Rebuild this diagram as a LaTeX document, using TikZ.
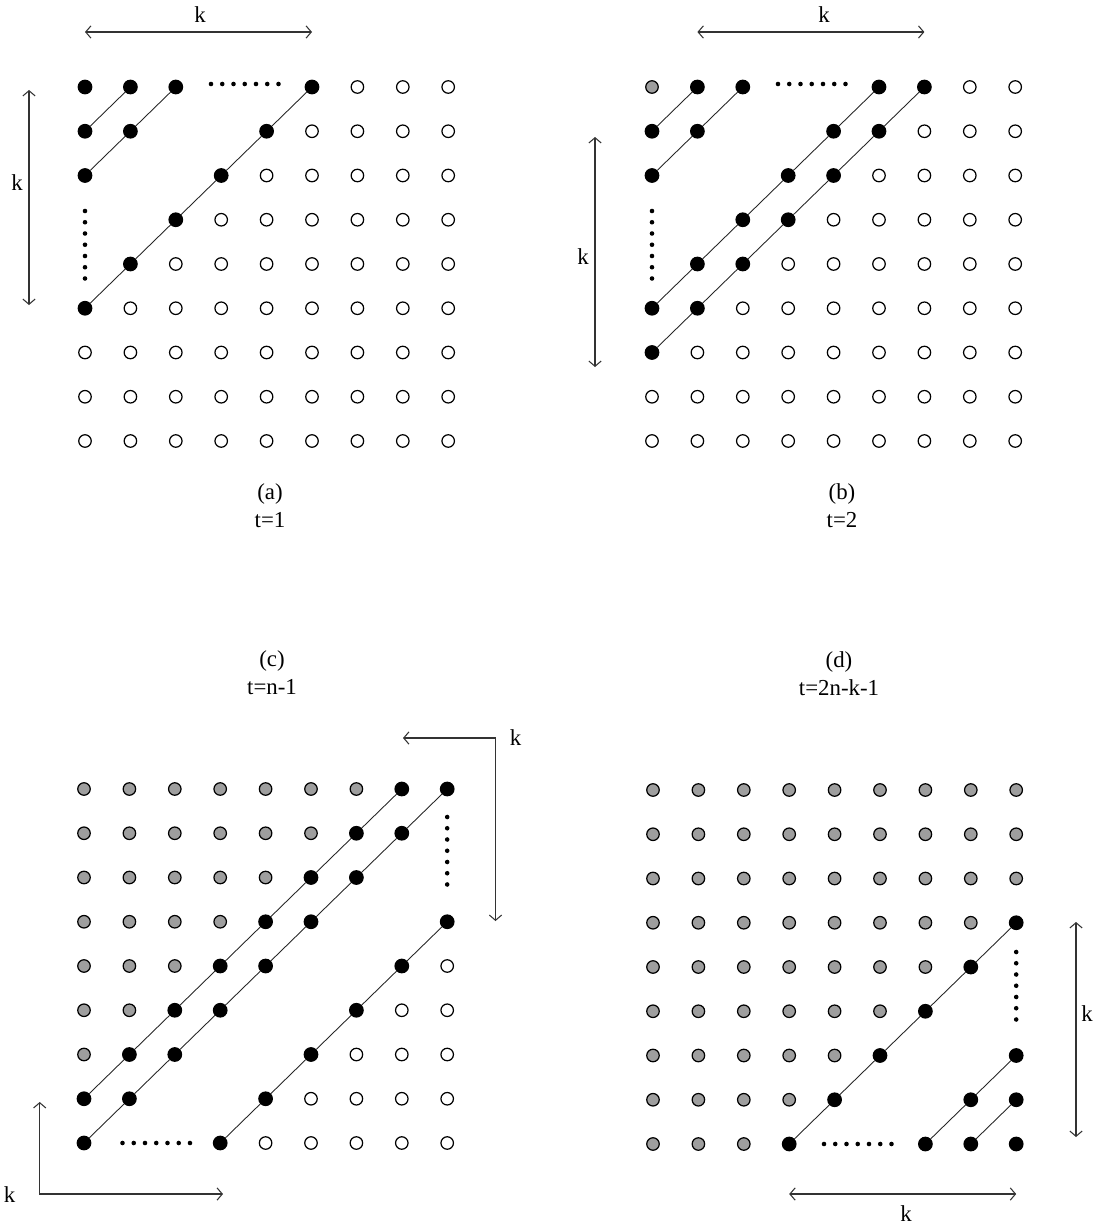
\documentclass[tikz,border=0pt]{standalone}
\usepackage{fontspec}
\setmainfont{Liberation Serif}
\usepackage{xcolor}
\usepackage{tikz}
\usetikzlibrary{arrows.meta}

\begin{document}
\begin{tikzpicture}[
    cellpt/.style={circle, minimum size=0.25cm, inner sep=0pt, line width=0.7pt},
    idle/.style={cellpt, draw=black, fill=white},
    done/.style={cellpt, draw=black, fill=black!38},
    busy/.style={cellpt, draw=black, fill=black, minimum size=0.27cm},
    link/.style={line width=0.5pt, draw=black!85},
    % ── dotted ellipses ──
    ellip/.style={line width=2.6pt, line cap=round, dash pattern=on 0pt off 6.4pt},
    % ── span arrows ──
    dimarrow/.style={{Straight Barb[length=3pt,width=7pt]}-{Straight Barb[length=3pt,width=7pt]},
                     line width=0.6pt, draw=black!80},
    klabel/.style={font=\fontsize{13}{15}\selectfont},
    captext/.style={align=center, font=\fontsize{13}{16}\selectfont},
]

\def\S{0.908}
\def\T{0.885}

\useasboundingbox (0,0) rectangle (21.96,-24.48);

% ══════════════════════════════════════
% (a) t=1
% ══════════════════════════════════════
\begin{scope}[shift={(1.70,-1.74)}]
    % Row 0
    \node[busy] (a00) at (0*\S, 0*\T) {};
    \node[busy] (a01) at (1*\S, 0*\T) {};
    \node[busy] (a02) at (2*\S, 0*\T) {};
    \node[busy] (a05) at (5*\S, 0*\T) {};
    \foreach \c in {6,...,8} \node[idle] (a0\c) at (\c*\S, 0*\T) {};

    % Row 1
    \node[busy] (a10) at (0*\S, -1*\T) {};
    \node[busy] (a11) at (1*\S, -1*\T) {};
    \node[busy] (a14) at (4*\S, -1*\T) {};
    \foreach \c in {5,...,8} \node[idle] (a1\c) at (\c*\S, -1*\T) {};

    % Row 2
    \node[busy] (a20) at (0*\S, -2*\T) {};
    \node[busy] (a23) at (3*\S, -2*\T) {};
    \foreach \c in {4,...,8} \node[idle] (a2\c) at (\c*\S, -2*\T) {};

    % Row 3
    \node[busy] (a32) at (2*\S, -3*\T) {};
    \foreach \c in {3,...,8} \node[idle] (a3\c) at (\c*\S, -3*\T) {};

    % Row 4
    \node[busy] (a41) at (1*\S, -4*\T) {};
    \foreach \c in {2,...,8} \node[idle] (a4\c) at (\c*\S, -4*\T) {};

    % Row 5
    \node[busy] (a50) at (0*\S, -5*\T) {};
    \foreach \c in {1,...,8} \node[idle] (a5\c) at (\c*\S, -5*\T) {};

    % Rows 6-8
    \foreach \r in {6,7,8} \foreach \c in {0,...,8} \node[idle] (a\r\c) at (\c*\S, -\r*\T) {};

    % Diagonals
    \draw[link] (a10) -- (a01);
    \draw[link] (a20) -- (a11) -- (a02);
    \draw[link] (a50) -- (a41) -- (a32) -- (a23) -- (a14) -- (a05);

    % Ellipses
    \coordinate (a-e1) at (2.52, 0.06);
    \coordinate (a-e2) at (3.88, 0.06);
    \draw[ellip] (a-e1) -- (a-e2);
    \coordinate (a-e3) at (0, -2.48);
    \coordinate (a-e4) at (0, -3.84);
    \draw[ellip] (a-e3) -- (a-e4);

    % Spans
    \coordinate (a-hl) at (0*\S, 1.10);
    \coordinate (a-hr) at (5*\S, 1.10);
    \draw[dimarrow] (a-hl) -- (a-hr);
    \node[klabel] (a-kh) at (2.30, 1.44) {k};
    \coordinate (a-vt) at (-1.12, -0.06);
    \coordinate (a-vb) at (-1.12, -4.36);
    \draw[dimarrow] (a-vt) -- (a-vb);
    \node[klabel] (a-kv) at (-1.36, -1.92) {k};

    \node[captext] (a-cap) at (3.70, -8.38) {(a)\\t=1};
\end{scope}

% ══════════════════════════════════════
% (b) t=2
% ══════════════════════════════════════
\begin{scope}[shift={(13.04,-1.74)}]
    % Row 0
    \node[done] (b00) at (0*\S, 0*\T) {};
    \node[busy] (b01) at (1*\S, 0*\T) {};
    \node[busy] (b02) at (2*\S, 0*\T) {};
    \node[busy] (b05) at (5*\S, 0*\T) {};
    \node[busy] (b06) at (6*\S, 0*\T) {};
    \foreach \c in {7,8} \node[idle] (b0\c) at (\c*\S, 0*\T) {};

    % Row 1
    \node[busy] (b10) at (0*\S, -1*\T) {};
    \node[busy] (b11) at (1*\S, -1*\T) {};
    \node[busy] (b14) at (4*\S, -1*\T) {};
    \node[busy] (b15) at (5*\S, -1*\T) {};
    \foreach \c in {6,...,8} \node[idle] (b1\c) at (\c*\S, -1*\T) {};

    % Row 2
    \node[busy] (b20) at (0*\S, -2*\T) {};
    \node[busy] (b23) at (3*\S, -2*\T) {};
    \node[busy] (b24) at (4*\S, -2*\T) {};
    \foreach \c in {5,...,8} \node[idle] (b2\c) at (\c*\S, -2*\T) {};

    % Row 3
    \node[busy] (b32) at (2*\S, -3*\T) {};
    \node[busy] (b33) at (3*\S, -3*\T) {};
    \foreach \c in {4,...,8} \node[idle] (b3\c) at (\c*\S, -3*\T) {};

    % Row 4
    \node[busy] (b41) at (1*\S, -4*\T) {};
    \node[busy] (b42) at (2*\S, -4*\T) {};
    \foreach \c in {3,...,8} \node[idle] (b4\c) at (\c*\S, -4*\T) {};

    % Row 5
    \node[busy] (b50) at (0*\S, -5*\T) {};
    \node[busy] (b51) at (1*\S, -5*\T) {};
    \foreach \c in {2,...,8} \node[idle] (b5\c) at (\c*\S, -5*\T) {};

    % Row 6
    \node[busy] (b60) at (0*\S, -6*\T) {};
    \foreach \c in {1,...,8} \node[idle] (b6\c) at (\c*\S, -6*\T) {};

    % Rows 7-8
    \foreach \r in {7,8} \foreach \c in {0,...,8} \node[idle] (b\r\c) at (\c*\S, -\r*\T) {};

    % Diagonals
    \draw[link] (b10) -- (b01);
    \draw[link] (b20) -- (b11) -- (b02);
    \draw[link] (b50) -- (b41) -- (b32) -- (b23) -- (b14) -- (b05);
    \draw[link] (b60) -- (b51) -- (b42) -- (b33) -- (b24) -- (b15) -- (b06);

    % Ellipses
    \coordinate (b-e1) at (2.52, 0.06);
    \coordinate (b-e2) at (3.88, 0.06);
    \draw[ellip] (b-e1) -- (b-e2);
    \coordinate (b-e3) at (0, -2.48);
    \coordinate (b-e4) at (0, -3.84);
    \draw[ellip] (b-e3) -- (b-e4);

    % Spans
    \coordinate (b-hl) at (1*\S, 1.10);
    \coordinate (b-hr) at (6*\S, 1.10);
    \draw[dimarrow] (b-hl) -- (b-hr);
    \node[klabel] (b-kh) at (3.44, 1.44) {k};
    \coordinate (b-vt) at (-1.14, -1.00);
    \coordinate (b-vb) at (-1.14, -5.60);
    \draw[dimarrow] (b-vt) -- (b-vb);
    \node[klabel] (b-kv) at (-1.38, -3.40) {k};

    \node[captext] (b-cap) at (3.80, -8.38) {(b)\\t=2};
\end{scope}

% ══════════════════════════════════════
% (c) t=n-1
% ══════════════════════════════════════
\begin{scope}[shift={(1.68,-15.78)}]
    % Row 0
    \foreach \c in {0,...,6} \node[done] (c0\c) at (\c*\S, 0*\T) {};
    \node[busy] (c07) at (7*\S, 0*\T) {};
    \node[busy] (c08) at (8*\S, 0*\T) {};

    % Row 1
    \foreach \c in {0,...,5} \node[done] (c1\c) at (\c*\S, -1*\T) {};
    \node[busy] (c16) at (6*\S, -1*\T) {};
    \node[busy] (c17) at (7*\S, -1*\T) {};

    % Row 2
    \foreach \c in {0,...,4} \node[done] (c2\c) at (\c*\S, -2*\T) {};
    \node[busy] (c25) at (5*\S, -2*\T) {};
    \node[busy] (c26) at (6*\S, -2*\T) {};

    % Row 3
    \foreach \c in {0,...,3} \node[done] (c3\c) at (\c*\S, -3*\T) {};
    \node[busy] (c34) at (4*\S, -3*\T) {};
    \node[busy] (c35) at (5*\S, -3*\T) {};
    \node[busy] (c38) at (8*\S, -3*\T) {};

    % Row 4
    \foreach \c in {0,...,2} \node[done] (c4\c) at (\c*\S, -4*\T) {};
    \node[busy] (c43) at (3*\S, -4*\T) {};
    \node[busy] (c44) at (4*\S, -4*\T) {};
    \node[busy] (c47) at (7*\S, -4*\T) {};
    \node[idle] (c48) at (8*\S, -4*\T) {};

    % Row 5
    \foreach \c in {0,1} \node[done] (c5\c) at (\c*\S, -5*\T) {};
    \node[busy] (c52) at (2*\S, -5*\T) {};
    \node[busy] (c53) at (3*\S, -5*\T) {};
    \node[busy] (c56) at (6*\S, -5*\T) {};
    \foreach \c in {7,8} \node[idle] (c5\c) at (\c*\S, -5*\T) {};

    % Row 6
    \node[done] (c60) at (0*\S, -6*\T) {};
    \node[busy] (c61) at (1*\S, -6*\T) {};
    \node[busy] (c62) at (2*\S, -6*\T) {};
    \node[busy] (c65) at (5*\S, -6*\T) {};
    \foreach \c in {6,...,8} \node[idle] (c6\c) at (\c*\S, -6*\T) {};

    % Row 7
    \node[busy] (c70) at (0*\S, -7*\T) {};
    \node[busy] (c71) at (1*\S, -7*\T) {};
    \node[busy] (c74) at (4*\S, -7*\T) {};
    \foreach \c in {5,...,8} \node[idle] (c7\c) at (\c*\S, -7*\T) {};

    % Row 8
    \node[busy] (c80) at (0*\S, -8*\T) {};
    \node[busy] (c83) at (3*\S, -8*\T) {};
    \foreach \c in {4,...,8} \node[idle] (c8\c) at (\c*\S, -8*\T) {};

    % Diagonals
    \draw[link] (c70) -- (c61) -- (c52) -- (c43) -- (c34) -- (c25) -- (c16) -- (c07);
    \draw[link] (c80) -- (c71) -- (c62) -- (c53) -- (c44) -- (c35) -- (c26) -- (c17) -- (c08);
    \draw[link] (c83) -- (c74) -- (c65) -- (c56) -- (c47) -- (c38);

    % Ellipses
    \coordinate (c-e1) at (0.77, -8*\T);
    \coordinate (c-e2) at (2.13, -8*\T);
    \draw[ellip] (c-e1) -- (c-e2);
    \coordinate (c-e3) at (8*\S, -0.56);
    \coordinate (c-e4) at (8*\S, -1.92);
    \draw[ellip] (c-e3) -- (c-e4);

    % Spans (bent)
    \coordinate (c-tl) at (6.38, 1.02);
    \coordinate (c-tb) at (8.23, -2.64);
    \draw[dimarrow] (c-tl) -| (c-tb);
    \node[klabel] (c-kt) at (8.63, 1.02) {k};
    \coordinate (c-bt) at (-0.886, -6.26);
    \coordinate (c-br) at (2.78, -8.10);
    \draw[dimarrow] (c-bt) |- (c-br);
    \node[klabel] (c-kb) at (-1.49, -8.12) {k};

    \node[captext] (c-cap) at (3.76, 2.33) {(c)\\t=n-1};
\end{scope}

% ══════════════════════════════════════
% (d) t=2n-k-1
% ══════════════════════════════════════
\begin{scope}[shift={(13.06,-15.80)}]
    % Rows 0-2
    \foreach \r in {0,1,2} \foreach \c in {0,...,8} \node[done] (d\r\c) at (\c*\S, -\r*\T) {};

    % Row 3
    \foreach \c in {0,...,7} \node[done] (d3\c) at (\c*\S, -3*\T) {};
    \node[busy] (d38) at (8*\S, -3*\T) {};

    % Row 4
    \foreach \c in {0,...,6} \node[done] (d4\c) at (\c*\S, -4*\T) {};
    \node[busy] (d47) at (7*\S, -4*\T) {};

    % Row 5
    \foreach \c in {0,...,5} \node[done] (d5\c) at (\c*\S, -5*\T) {};
    \node[busy] (d56) at (6*\S, -5*\T) {};

    % Row 6
    \foreach \c in {0,...,4} \node[done] (d6\c) at (\c*\S, -6*\T) {};
    \node[busy] (d65) at (5*\S, -6*\T) {};
    \node[busy] (d68) at (8*\S, -6*\T) {};

    % Row 7
    \foreach \c in {0,...,3} \node[done] (d7\c) at (\c*\S, -7*\T) {};
    \node[busy] (d74) at (4*\S, -7*\T) {};
    \node[busy] (d77) at (7*\S, -7*\T) {};
    \node[busy] (d78) at (8*\S, -7*\T) {};

    % Row 8
    \foreach \c in {0,...,2} \node[done] (d8\c) at (\c*\S, -8*\T) {};
    \node[busy] (d83) at (3*\S, -8*\T) {};
    \node[busy] (d86) at (6*\S, -8*\T) {};
    \node[busy] (d87) at (7*\S, -8*\T) {};
    \node[busy] (d88) at (8*\S, -8*\T) {};

    % Diagonals
    \draw[link] (d83) -- (d74) -- (d65) -- (d56) -- (d47) -- (d38);
    \draw[link] (d86) -- (d77) -- (d68);
    \draw[link] (d87) -- (d78);

    % Ellipses
    \coordinate (d-e1) at (3.42, -8*\T);
    \coordinate (d-e2) at (4.78, -8*\T);
    \draw[ellip] (d-e1) -- (d-e2);
    \coordinate (d-e3) at (8*\S, -3.24);
    \coordinate (d-e4) at (8*\S, -4.60);
    \draw[ellip] (d-e3) -- (d-e4);

    % Spans
    \coordinate (d-hl) at (3*\S, -8.08);
    \coordinate (d-hr) at (8*\S, -8.08);
    \draw[dimarrow] (d-hl) -- (d-hr);
    \node[klabel] (d-kh) at (5.06, -8.47) {k};
    \coordinate (d-vt) at (8.46, -2.64);
    \coordinate (d-vb) at (8.46, -6.94);
    \draw[dimarrow] (d-vt) -- (d-vb);
    \node[klabel] (d-kv) at (8.68, -4.48) {k};

    \node[captext] (d-cap) at (3.72, 2.33) {(d)\\t=2n-k-1};
\end{scope}

\end{tikzpicture}
\end{document}
